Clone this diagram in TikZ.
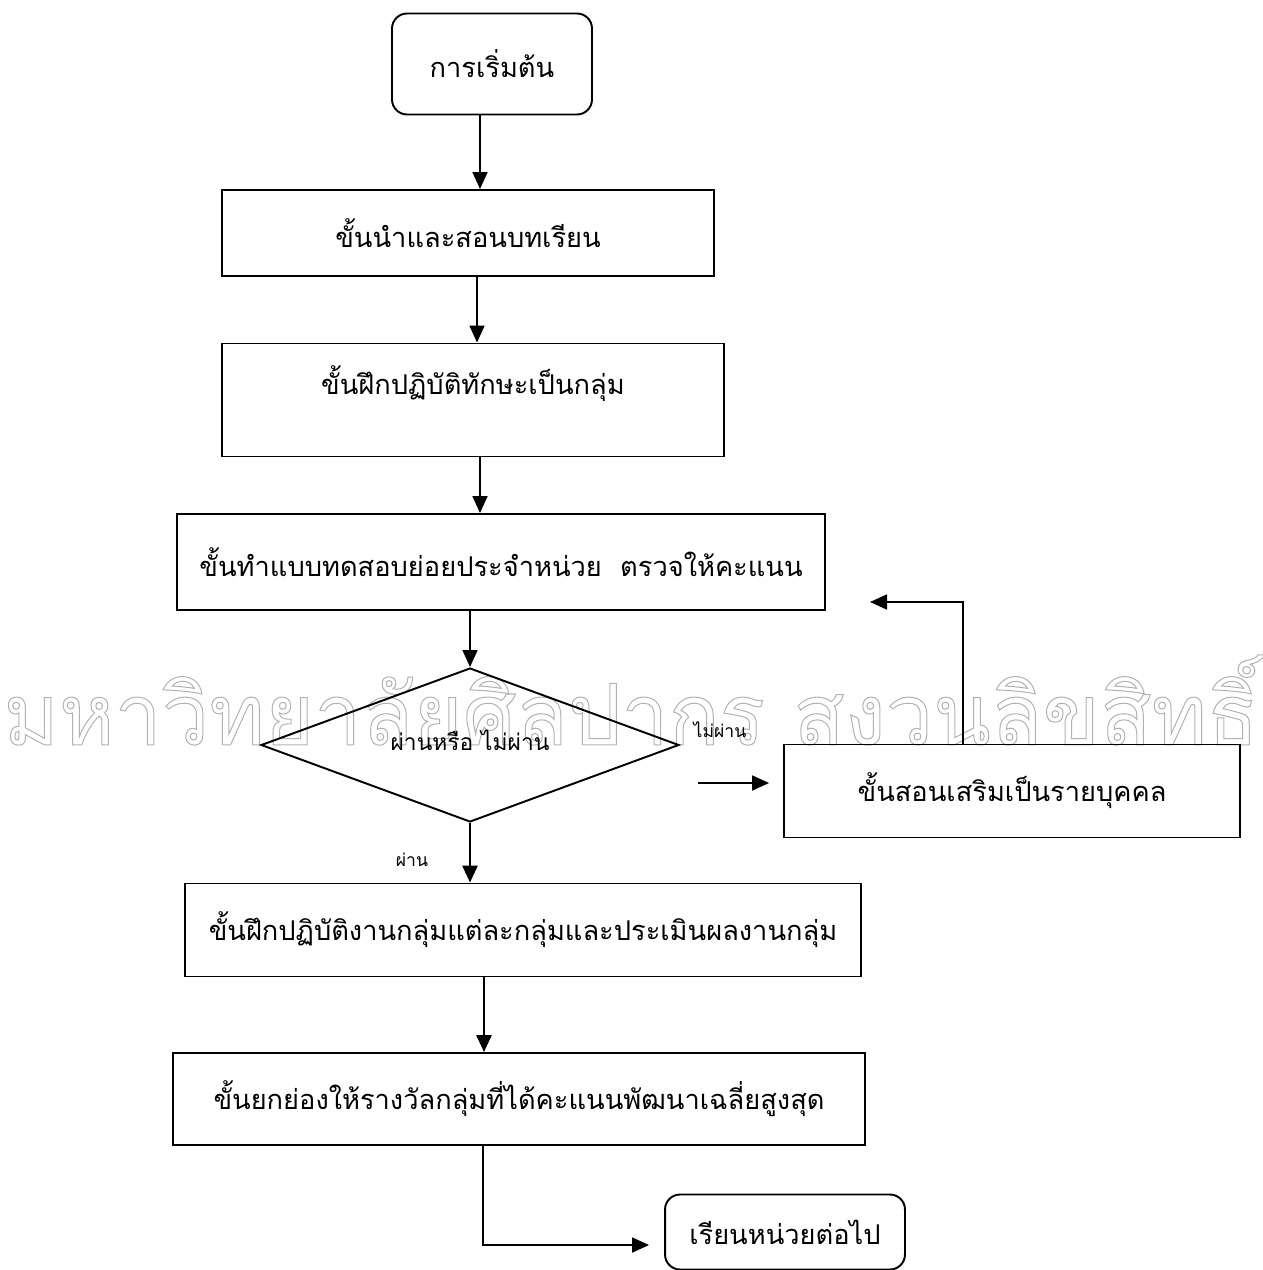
\documentclass[tikz,border=0pt]{standalone}
\usepackage{fontspec}
\setmainfont[Script=Thai]{Loma}
\usepackage{graphicx}
\usetikzlibrary{shapes.geometric, arrows.meta}

\tikzset{
  stepbox/.style={draw, line width=1.1pt, inner sep=0pt, font=\fontsize{15.5}{19}\selectfont},
  endbox/.style={stepbox, rounded corners=0.3cm},
  decbox/.style={draw, diamond, aspect=2.7, line width=1.1pt, inner sep=0pt, text depth=0.2cm, font=\fontsize{13}{16}\selectfont},
  arr/.style={line width=1pt, -{Triangle[length=0.34cm,width=0.3cm]}},
  thickarr/.style={arr, line width=1.6pt},
  lbl/.style={inner sep=0pt, font=\fontsize{10}{12}\selectfont},
}

% outlined watermark text
\newcommand{\outlinetext}[1]{\special{pdf:literal direct 1 Tr 0.12 w}#1\special{pdf:literal direct 0 Tr}}

\begin{document}
\begin{tikzpicture}[x=0.02cm, y=-0.02cm]
  \useasboundingbox (0,0) rectangle (1263,1270);

  % watermark
  \node[inner sep=0pt, text=gray!60] (mark) at (631,700)
    {\resizebox{25.1cm}{1.8cm}{\outlinetext{มหาวิทยาลัยศิลปากร สงวนลิขสิทธิ์}}};

  % steps
  \node[endbox, minimum width=4cm, minimum height=2.02cm] (start) at (492,64) {การเริ่มต้น};
  \node[stepbox, minimum width=9.84cm, minimum height=1.72cm] (intro) at (468,233) {ขั้นนำและสอนบทเรียน};
  \node[stepbox, minimum width=10.06cm, minimum height=2.26cm, text depth=0.8cm] (skill) at (473,400) {ขั้นฝึกปฏิบัติทักษะเป็นกลุ่ม};
  \node[stepbox, minimum width=12.96cm, minimum height=1.92cm] (quiz) at (501,562) {ขั้นทำแบบทดสอบย่อยประจำหน่วย~~ตรวจให้คะแนน};
  \node[decbox, minimum width=8.36cm, minimum height=3.08cm] (pass) at (470,745) {ผ่านหรือ ไม่ผ่าน};
  \node[stepbox, minimum width=9.12cm, minimum height=1.86cm] (extra) at (1012,791) {ขั้นสอนเสริมเป็นรายบุคคล};
  \node[stepbox, minimum width=13.54cm, minimum height=1.86cm] (group) at (523,930) {ขั้นฝึกปฏิบัติงานกลุ่มแต่ละกลุ่มและประเมินผลงานกลุ่ม};
  \node[stepbox, minimum width=13.84cm, minimum height=1.84cm] (award) at (519,1099) {ขั้นยกย่องให้รางวัลกลุ่มที่ได้คะแนนพัฒนาเฉลี่ยสูงสุด};
  \node[endbox, minimum width=4.8cm, minimum height=1.5cm] (next) at (785,1232) {เรียนหน่วยต่อไป};

  % labels
  \node[lbl] (fail) at (720,730) {ไม่ผ่าน};
  \node[lbl] (ok) at (412,860) {ผ่าน};

  % free ends
  \coordinate (failin) at (698,783);
  \coordinate (back) at (870,602);

  % connectors
  \draw[arr] (start.south -| 480,0) -- (intro.north -| 480,0);
  \draw[arr] (intro.south -| 477,0) -- (skill.north -| 477,0);
  \draw[arr] (skill.south -| 480,0) -- (quiz.north -| 480,0);
  \draw[arr] (quiz.south -| pass.north) -- (pass.north);
  \draw[arr, shorten >=0.28cm] (failin) -- (failin -| extra.west);
  \draw[arr] (extra.north -| 963,0) |- (back);
  \draw[thickarr] (pass.south) -- (group.north -| pass.south);
  \draw[thickarr] (group.south -| 484,0) -- (award.north -| 484,0);
  \draw[arr, shorten >=0.3cm] (award.south -| 483,0) |- (next.west |- 0,1245);
\end{tikzpicture}
\end{document}
